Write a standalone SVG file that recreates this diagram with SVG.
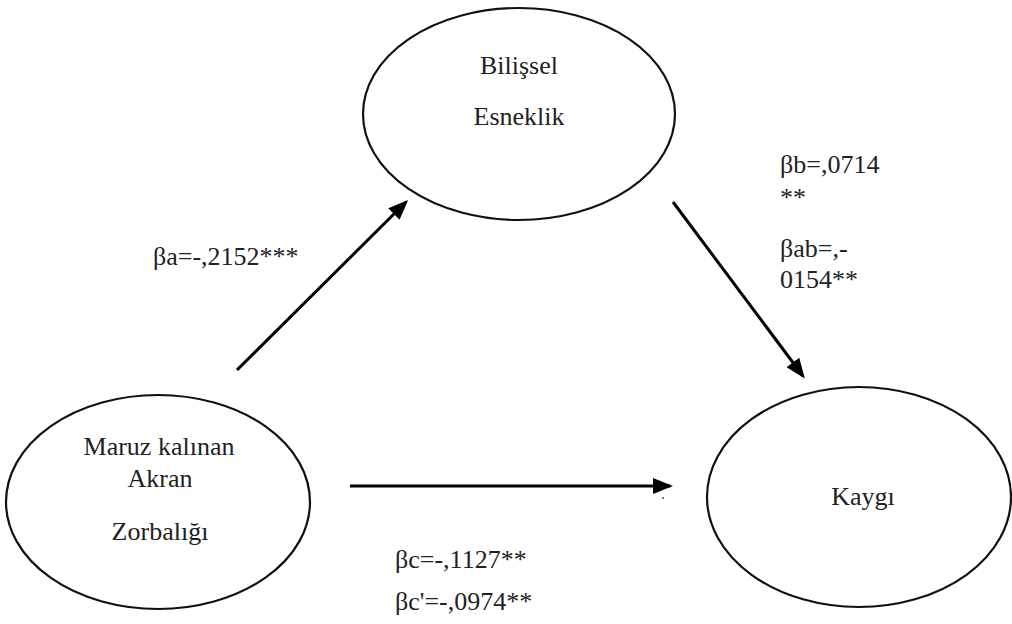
<svg xmlns="http://www.w3.org/2000/svg" width="1012" height="624" viewBox="0 0 1012 624">
<style>
.node{fill:#fff;stroke:#111;stroke-width:2.2}
.t{font-family:"Liberation Serif","Times New Roman",serif;font-size:26px;fill:#222}
.c{text-anchor:middle}
.arr{stroke:#000;stroke-width:3;fill:none;marker-end:url(#ah)}
</style>
<defs>
<marker id="ah" markerUnits="userSpaceOnUse" markerWidth="20" markerHeight="16" refX="17" refY="8" orient="auto">
<path d="M0,0 L20,8 L0,16 z" fill="#000"/>
</marker>
</defs>
<rect width="1012" height="624" fill="#fff"/>
<g id="connectors">
<line class="arr" x1="237" y1="370" x2="406" y2="202"/>
<line class="arr" x1="673" y1="202" x2="803" y2="376"/>
<line class="arr" x1="350" y1="486" x2="670" y2="486"/>
<circle cx="663" cy="498" r="1" fill="#444"/>
</g>
<g id="node-bilissel">
<ellipse class="node" cx="519" cy="114" rx="156" ry="106"/>
<text class="t c" x="519" y="74">Bilişsel</text>
<text class="t c" x="519" y="125">Esneklik</text>
</g>
<g id="node-zorbalik">
<ellipse class="node" cx="158" cy="502" rx="152" ry="107"/>
<text class="t c" x="159" y="455">Maruz kalınan</text>
<text class="t c" x="160" y="487">Akran</text>
<text class="t c" x="160" y="540">Zorbalığı</text>
</g>
<g id="node-kaygi">
<ellipse class="node" cx="859" cy="497" rx="152" ry="110"/>
<text class="t c" x="863" y="505">Kaygı</text>
</g>
<g id="labels">
<text class="t" x="153" y="265">βa=-,2152***</text>
<text class="t" x="780" y="173">βb=,0714</text>
<text class="t" x="780" y="206">**</text>
<text class="t" x="780" y="257">βab=,-</text>
<text class="t" x="780" y="288">0154**</text>
<text class="t" x="395" y="568">βc=-,1127**</text>
<text class="t" x="395" y="610">βc'=-,0974**</text>
</g>
</svg>
